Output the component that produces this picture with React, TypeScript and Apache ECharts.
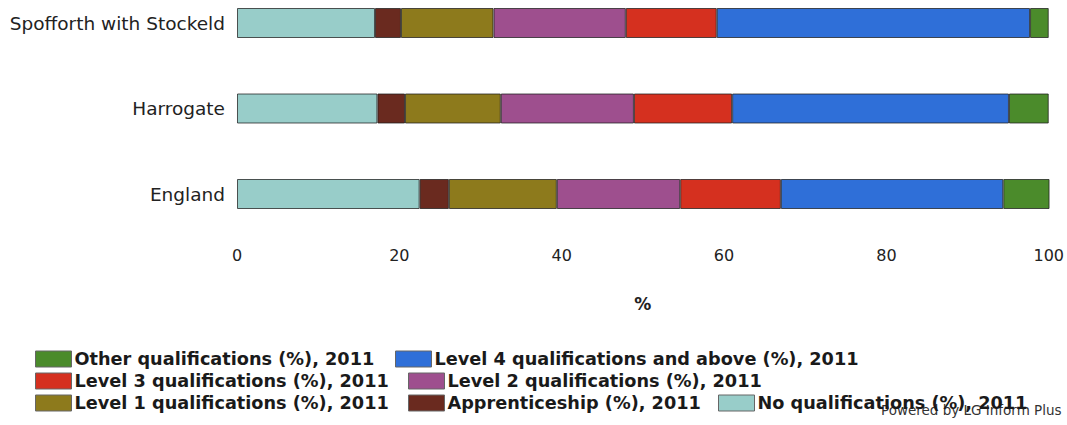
import React, { useEffect, useRef } from "react";
import * as echarts from "echarts";

const categories = ["Spofforth with Stockeld", "Harrogate", "England"];
const seriesNames = [
  "No qualifications (%), 2011",
  "Apprenticeship (%), 2011",
  "Level 1 qualifications (%), 2011",
  "Level 2 qualifications (%), 2011",
  "Level 3 qualifications (%), 2011",
  "Level 4 qualifications and above (%), 2011",
  "Other qualifications (%), 2011",
];
const noQual = [17.0, 17.3, 22.5];
const apprenticeship = [3.2, 3.4, 3.6];
const level1 = [11.4, 11.8, 13.3];
const level2 = [16.3, 16.4, 15.2];
const level3 = [11.2, 12.1, 12.4];
const level4 = [38.6, 34.1, 27.4];
const other = [2.3, 4.9, 5.7];
const xTicks = [0, 20, 40, 60, 80, 100];

const seriesValues = [noQual, apprenticeship, level1, level2, level3, level4, other];
const colors = ["#98cdc9", "#6a2a1f", "#8d7a1c", "#9e4f8e", "#d5301f", "#2f6fd8", "#4b8b2b"];

const FONT = "DejaVu Sans";

// legend placements: [seriesIndex, left, top]
const legendPlaces: [number, number, number][] = [
  [6, 35, 350],
  [5, 395, 350],
  [4, 35, 372],
  [3, 408, 372],
  [2, 35, 394],
  [1, 408, 394],
  [0, 718, 394],
];

export default function App() {
  const ref = useRef<HTMLDivElement>(null);
  useEffect(() => {
    if (!ref.current) return;
    const chart = echarts.init(ref.current, undefined, { renderer: "svg" });
    chart.setOption({
      animation: false,
      backgroundColor: "#ffffff",
      textStyle: { fontFamily: FONT },
      grid: { left: 237, right: 14, top: 23, height: 171, containLabel: false },
      xAxis: {
        type: "value",
        min: xTicks[0],
        max: xTicks[xTicks.length - 1],
        interval: 20,
        splitLine: { show: false },
        axisLine: { show: false },
        axisTick: { show: false },
        axisLabel: { fontSize: 16, color: "#222", margin: 53, fontFamily: FONT },
        name: "%",
        nameLocation: "middle",
        nameGap: 101,
        nameTextStyle: { fontSize: 17, fontWeight: "bold", color: "#222", fontFamily: FONT },
      },
      yAxis: {
        type: "category",
        data: categories,
        inverse: true,
        boundaryGap: false,
        axisLine: { show: false },
        axisTick: { show: false },
        axisLabel: { fontSize: 18.5, color: "#222", margin: 12, fontFamily: FONT },
      },
      legend: legendPlaces.map(([si, left, top]) => ({
        data: [seriesNames[si]],
        left,
        top,
        padding: 0,
        itemWidth: 36,
        itemHeight: 16,
        icon: "rect",
        selectedMode: false,
        itemStyle: { borderColor: "#666", borderWidth: 1 },
        textStyle: { fontSize: 17.7, fontWeight: "bold", color: "#1a1a1a", fontFamily: FONT, padding: [0, 0, 0, -2] },
      })),
      graphic: [
        {
          type: "text",
          left: 881,
          top: 403,
          style: { text: "Powered by LG Inform Plus", fontSize: 13.5, fill: "#333", fontFamily: FONT },
        },
      ],
      series: seriesNames.map((name, i) => ({
        name,
        type: "bar",
        stack: "total",
        barWidth: 30,
        clip: false,
        data: seriesValues[i],
        itemStyle: { color: colors[i], borderColor: "rgba(30,30,30,0.75)", borderWidth: 1 },
      })),
    });
    return () => chart.dispose();
  }, []);
  return <div ref={ref} style={{ width: 1067, height: 425, position: "absolute", left: 0, top: 0 }} />;
}
